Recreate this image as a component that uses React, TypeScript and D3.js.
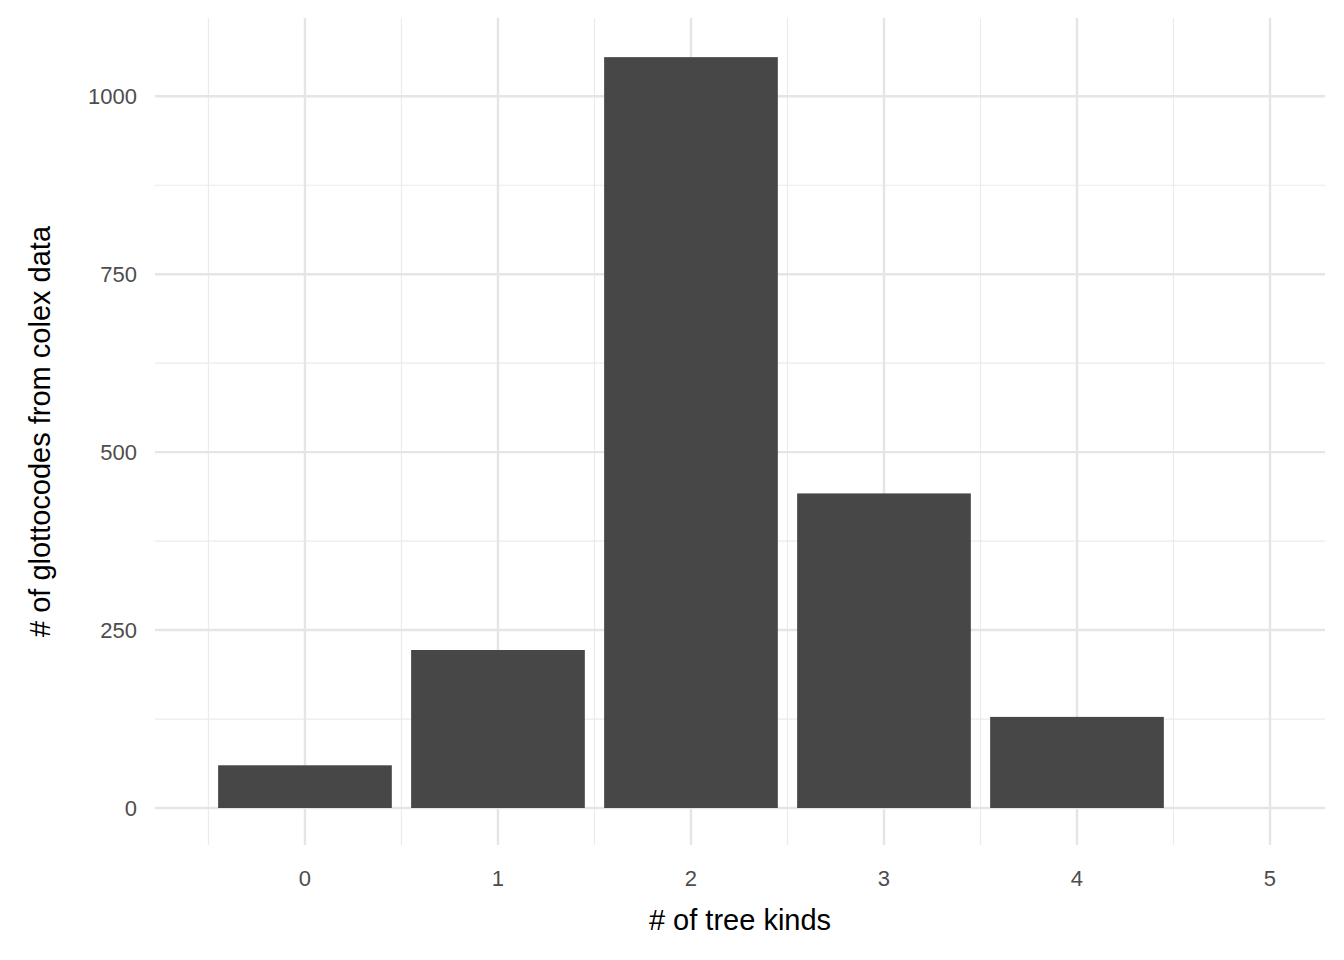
import * as d3 from "d3";

const kinds = [0, 1, 2, 3, 4, 5];
const counts = [60, 222, 1055, 442, 128, 0];
const yTicks = [0, 250, 500, 750, 1000];
const yMinor = [125, 375, 625, 875];
const xMinor = [-0.5, 0.5, 1.5, 2.5, 3.5, 4.5];

export default function App() {
  const W = 1344, H = 960;
  const left = 155, right = 1325, top = 18, bottom = 845;
  const x = d3.scaleLinear().domain([-0.777, 5.285]).range([left, right]);
  const y = d3.scaleLinear().domain([-52, 1110]).range([bottom, top]);
  const bw = x(0.45) - x(-0.45);
  const font = "Liberation Sans, Arial, sans-serif";
  return (
    <svg width={W} height={H} style={{ position: "absolute", left: 0, top: 0, background: "#fff" }} fontFamily={font}>
      {yMinor.map((v) => (
        <line key={"ym" + v} x1={left} x2={right} y1={y(v)} y2={y(v)} stroke="#ebebeb" strokeWidth={1.2} />
      ))}
      {xMinor.map((v) => (
        <line key={"xm" + v} y1={top} y2={bottom} x1={x(v)} x2={x(v)} stroke="#ebebeb" strokeWidth={1.2} />
      ))}
      {yTicks.map((v) => (
        <line key={"y" + v} x1={left} x2={right} y1={y(v)} y2={y(v)} stroke="#e5e5e5" strokeWidth={2.4} />
      ))}
      {kinds.map((v) => (
        <line key={"x" + v} y1={top} y2={bottom} x1={x(v)} x2={x(v)} stroke="#e5e5e5" strokeWidth={2.4} />
      ))}
      {kinds.map((k, i) => (
        <rect key={"b" + k} x={x(k) - bw / 2} width={bw} y={y(counts[i])} height={y(0) - y(counts[i])} fill="#474747" />
      ))}
      {yTicks.map((v) => (
        <text key={"yl" + v} x={137} y={y(v)} dy="0.36em" textAnchor="end" fontSize={22} fill="#4d4d4d">{v}</text>
      ))}
      {kinds.map((v) => (
        <text key={"xl" + v} x={x(v)} y={886} textAnchor="middle" fontSize={22} fill="#4d4d4d">{v}</text>
      ))}
      <text x={(left + right) / 2} y={930} textAnchor="middle" fontSize={29} fill="#000"># of tree kinds</text>
      <text transform={`translate(50,${(top + bottom) / 2}) rotate(-90)`} textAnchor="middle" fontSize={29} fill="#000"># of glottocodes from colex data</text>
    </svg>
  );
}
